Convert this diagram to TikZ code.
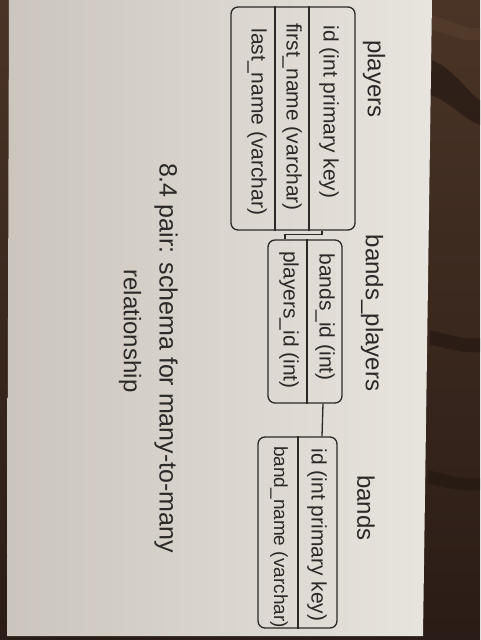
\documentclass[tikz,border=0pt]{standalone}
\usepackage{fontspec}
\setmainfont{Liberation Sans}
\definecolor{inkc}{HTML}{2A2828}
\definecolor{paperL}{HTML}{CBC5BD}
\definecolor{paperR}{HTML}{E8E4DE}
\definecolor{woodtop}{HTML}{4A3426}
\definecolor{woodbot}{HTML}{2A1C16}
\definecolor{woodstreak}{HTML}{1F1510}
\definecolor{woodlight}{HTML}{5A4130}
\begin{document}
\begin{tikzpicture}[x=1pt,y=-1pt,
  ink/.style={draw=inkc, line width=1.3pt},
  table/.style={ink, rounded corners=7pt, inner sep=0pt},
  hand/.style={text=inkc, rotate=-90, inner sep=0pt},
  fieldtext/.style={hand, font=\fontsize{21}{24}\selectfont},
  titletext/.style={hand, font=\fontsize{24}{28}\selectfont},
  notetext/.style={hand, font=\fontsize{25}{30}\selectfont},
]
\useasboundingbox (0,0) rectangle (480,640);

% wooden table under the sheet
\shade[top color=woodtop, bottom color=woodbot] (0,0) rectangle (480,640);
\fill[woodstreak, opacity=0.6] (432,60) .. controls (455,70) and (470,95) .. (480,100) -- (480,125) .. controls (462,118) and (448,100) .. (430,95) -- cycle;
\fill[woodlight, opacity=0.5] (432,15) .. controls (450,20) and (465,30) .. (480,28) -- (480,40) .. controls (462,42) and (450,34) .. (432,30) -- cycle;
\fill[woodstreak, opacity=0.5] (430,330) .. controls (450,335) and (465,340) .. (480,338) -- (480,352) .. controls (465,354) and (448,348) .. (430,345) -- cycle;
\fill[woodstreak, opacity=0.5] (428,470) .. controls (450,476) and (465,480) .. (480,478) -- (480,490) .. controls (462,492) and (448,488) .. (428,484) -- cycle;

% sheet of paper
\shade[left color=paperL, right color=paperR] (9,0) -- (432,0) -- (423,636) -- (7,636) -- cycle;

% column positions of the row dividers and key links
\coordinate (pdA) at (309,0);
\coordinate (pdB) at (275,0);
\coordinate (bpd) at (307,0);
\coordinate (bd) at (298,0);
\coordinate (k1) at (322,0);
\coordinate (k2) at (285,0);
\coordinate (k3) at (323,0);
\coordinate (k4) at (322,0);

% players table
\node[titletext] (tplayers) at (374,79) {players};
\node[table, minimum width=124pt, minimum height=223pt] (players) at (293,118.5) {};
\draw[ink] (pdA |- players.north) -- (pdA |- players.south);
\draw[ink] (pdB |- players.north) -- (pdB |- players.south);
\node[fieldtext] (pid) at (329,112) {id (int primary key)};
\node[fieldtext] (pfirst) at (292,117) {first\_name (varchar)};
\node[fieldtext] (plast) at (257,122) {last\_name (varchar)};

% bands_players table
\node[titletext] (tbp) at (372,313) {bands\_players};
\node[table, minimum width=74pt, minimum height=163pt] (bp) at (305,321.5) {};
\draw[ink] (bpd |- bp.north) -- (bpd |- bp.south);
\node[fieldtext] (bpb) at (325,317) {bands\_id (int)};
\node[fieldtext] (bpp) at (289,320) {players\_id (int)};

% bands table
\node[titletext] (tbands) at (366,508) {bands};
\node[table, minimum width=79pt, minimum height=191pt] (bands) at (297.5,532.5) {};
\draw[ink] (bd |- bands.north) -- (bd |- bands.south);
\node[fieldtext] (bid) at (317,535) {id (int primary key)};
\node[fieldtext, font=\fontsize{19}{22}\selectfont] (bname) at (279,537) {band\_name (varchar)};

% key links
\draw[ink] (players.south -| k1) -- ++(0,4) -| (bp.north -| k2);
\draw[ink] (bp.south -| k3) -- (bands.north -| k4);

% caption
\node[notetext] (cap1) at (166,358) {8.4 pair: schema for many-to-many};
\node[titletext] (cap2) at (130,331) {relationship};
\end{tikzpicture}
\end{document}
